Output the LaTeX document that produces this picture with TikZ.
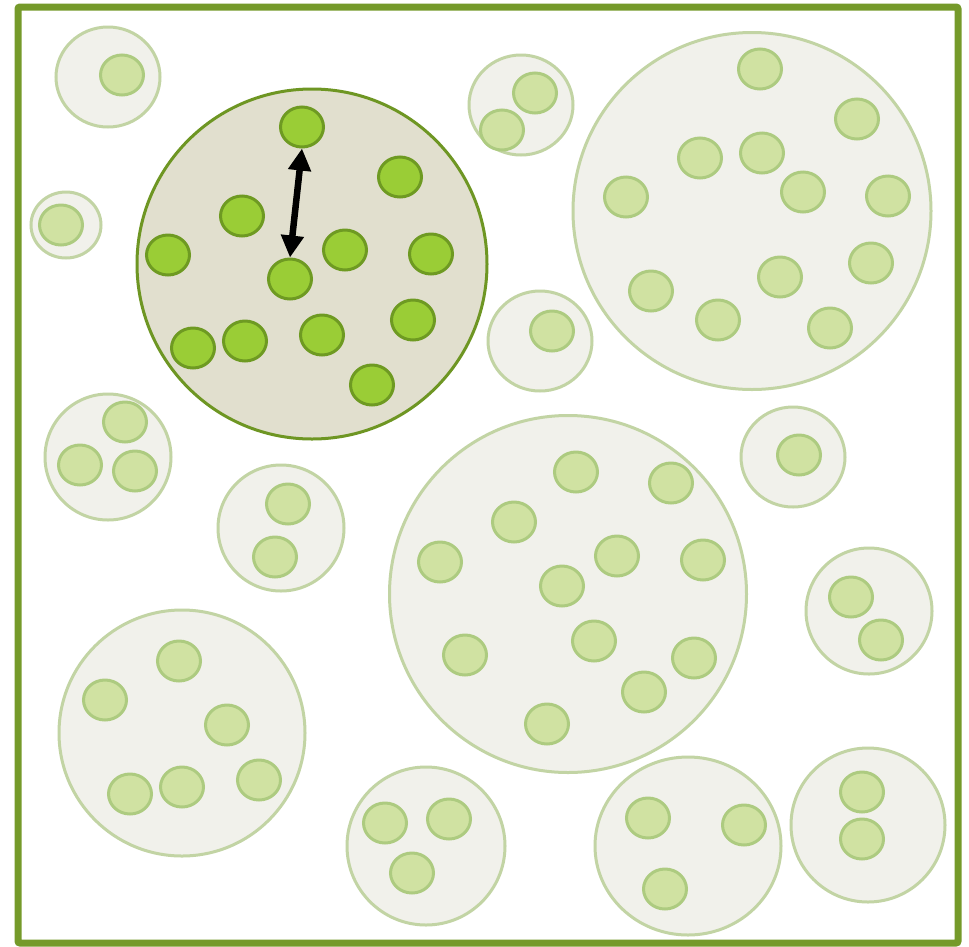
\documentclass[tikz,border=0pt]{standalone}
\usetikzlibrary{shapes.geometric,arrows.meta}
\definecolor{frame}{HTML}{759A2A}
\definecolor{cellfill}{HTML}{F1F1EB}
\definecolor{celldraw}{HTML}{C2D4A4}
\definecolor{dotfill}{HTML}{D0E2A2}
\definecolor{dotdraw}{HTML}{ADCB80}
\definecolor{hcellfill}{HTML}{E1DFCE}
\definecolor{hcelldraw}{HTML}{6E9623}
\definecolor{hdotfill}{HTML}{9ACD36}
\definecolor{hdotdraw}{HTML}{6E9A22}
\tikzset{
  cell/.style={ellipse,draw=celldraw,fill=cellfill,line width=3pt,inner sep=0pt},
  dot/.style={ellipse,draw=dotdraw,fill=dotfill,line width=3pt,inner sep=0pt,minimum width=43pt,minimum height=40pt},
  hcell/.style={ellipse,draw=hcelldraw,fill=hcellfill,line width=3pt,inner sep=0pt},
  hdot/.style={ellipse,draw=hdotdraw,fill=hdotfill,line width=3pt,inner sep=0pt,minimum width=43pt,minimum height=40pt},
  link/.style={line width=6.5pt,{Triangle[length=22pt,width=22pt]}-{Triangle[length=22pt,width=22pt]},shorten <=0pt,shorten >=0pt}
}
\newcommand{\mkcell}[5]{\node[cell,minimum width=#3pt,minimum height=#4pt] (#5) at (#1,#2) {};}
\begin{document}
\begin{tikzpicture}[x=1pt,y=-1pt]
\useasboundingbox (0,0) rectangle (969,946);
\fill[white] (0,0) rectangle (969,946);
% faded cells
\mkcell{108}{77}{104}{100}{c1}
\node[dot] (c1a) at (122,75) {};
\mkcell{66}{225}{70}{66}{c2}
\node[dot] (c2a) at (61,225) {};
\mkcell{521}{105}{104}{100}{c3}
\node[dot] (c3a) at (535,93) {};
\node[dot] (c3b) at (502,130) {};
\mkcell{752}{211}{358}{357}{c4}
\foreach \x/\y [count=\i] in {760/69,857/119,700/158,762/153,888/196,626/197,803/192,871/263,651/291,780/277,718/320,830/328}
  \node[dot] (c4d\i) at (\x,\y) {};
\mkcell{540}{341}{104}{100}{c5}
\node[dot] (c5a) at (552,331) {};
\mkcell{108}{457}{126}{126}{c6}
\node[dot] (c6a) at (125,422) {};
\node[dot] (c6b) at (80,465) {};
\node[dot] (c6c) at (135,471) {};
\mkcell{281}{528}{126}{126}{c7}
\node[dot] (c7a) at (288,504) {};
\node[dot] (c7b) at (275,557) {};
\mkcell{568}{594}{357}{357}{c8}
\foreach \x/\y [count=\i] in {576/472,671/483,514/522,440/562,617/556,703/560,562/586,594/641,465/655,694/658,644/692,547/724}
  \node[dot] (c8d\i) at (\x,\y) {};
\mkcell{793}{457}{104}{100}{c9}
\node[dot] (c9a) at (799,455) {};
\mkcell{869}{611}{126}{126}{c10}
\node[dot] (c10a) at (851,597) {};
\node[dot] (c10b) at (881,640) {};
\mkcell{182}{733}{246}{246}{c11}
\foreach \x/\y [count=\i] in {179/661,105/700,227/725,130/794,182/787,259/780}
  \node[dot] (c11d\i) at (\x,\y) {};
\mkcell{426}{846}{158}{158}{c12}
\node[dot] (c12a) at (385,823) {};
\node[dot] (c12b) at (449,819) {};
\node[dot] (c12c) at (412,873) {};
\mkcell{688}{846}{186}{178}{c13}
\node[dot] (c13a) at (648,818) {};
\node[dot] (c13b) at (744,825) {};
\node[dot] (c13c) at (665,889) {};
\mkcell{868}{825}{154}{154}{c14}
\node[dot] (c14a) at (862,792) {};
\node[dot] (c14b) at (862,839) {};
% highlighted cell
\node[hcell,minimum width=350pt,minimum height=350pt] (h) at (312,264) {};
\foreach \x/\y [count=\i] in {302/127,400/177,242/216,168/255,345/250,431/254,290/279,413/320,193/348,245/341,322/335,372/385}
  \node[hdot] (hd\i) at (\x,\y) {};
\draw[link] (hd7.north) -- (hd1.south);
% frame
\draw[frame,line width=7pt,rounded corners=2pt] (18,7) rectangle (958,943);
\end{tikzpicture}
\end{document}
